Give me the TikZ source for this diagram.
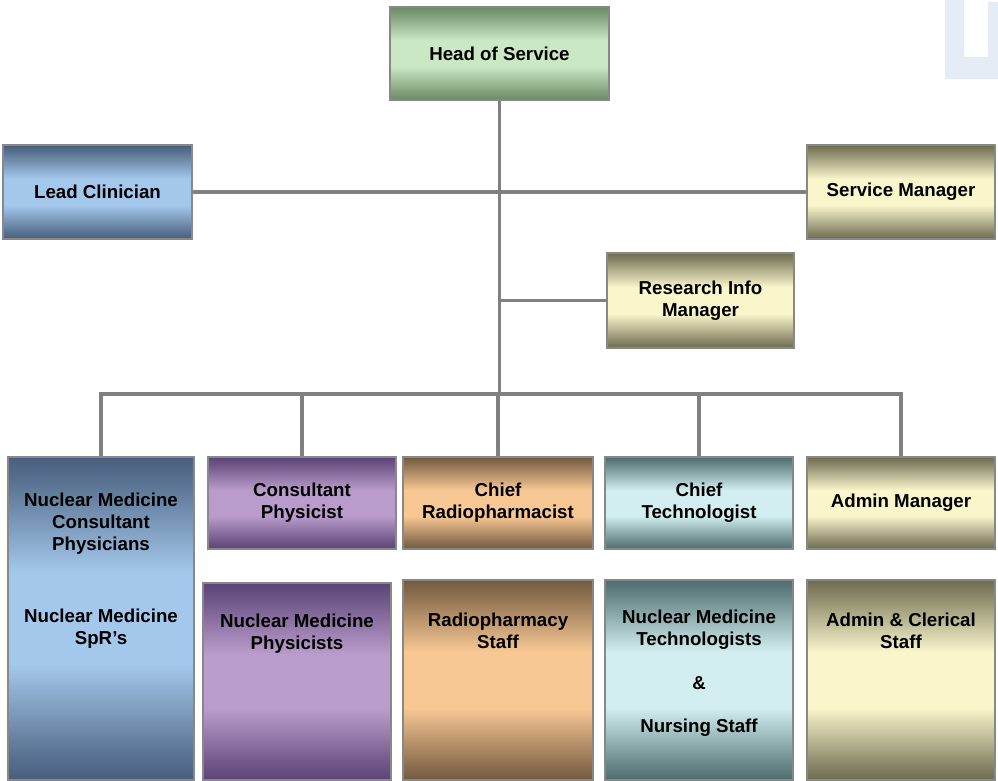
\documentclass[tikz,border=0pt]{standalone}
\usepackage{fontspec}
\setmainfont{Liberation Sans}
\usetikzlibrary{positioning,calc}
\definecolor{frame}{RGB}{136,136,136}
\definecolor{wire}{RGB}{128,128,128}
\definecolor{wmark}{RGB}{230,236,246}
\definecolor{grnD}{RGB}{107,138,102}
\definecolor{grnL}{RGB}{203,232,196}
\definecolor{bluD}{RGB}{72,94,124}
\definecolor{bluL}{RGB}{164,200,236}
\definecolor{khaD}{RGB}{110,108,80}
\definecolor{khaL}{RGB}{249,246,204}
\definecolor{purD}{RGB}{92,68,118}
\definecolor{purL}{RGB}{185,156,203}
\definecolor{tanD}{RGB}{115,90,64}
\definecolor{tanL}{RGB}{248,200,148}
\definecolor{tealD}{RGB}{79,109,110}
\definecolor{tealL}{RGB}{210,238,240}
\colorlet{bandedge}{gray}
\colorlet{bandmid}{white}
\pgfdeclareverticalshading[bandedge,bandmid]{band}{100bp}{color(0bp)=(bandedge); color(25bp)=(bandedge); color(29bp)=(bandedge!80!bandmid); color(43bp)=(bandmid); color(57bp)=(bandmid); color(71bp)=(bandedge!80!bandmid); color(75bp)=(bandedge); color(100bp)=(bandedge)}

\begin{document}
\begin{tikzpicture}[x=0.025cm, y=-0.025cm,
    unit/.style={draw=frame, line width=1.4pt, minimum width=4.7cm,
                 minimum height=2.35cm, inner sep=0pt, align=center,
                 font=\bfseries\fontsize{13.3}{15.5}\selectfont},
    tone/.style 2 args={/utils/exec={\colorlet{bandedge}{#1}\colorlet{bandmid}{#2}},
                 shade, shading=band},
    caption/.style={inner sep=0pt, align=center,
                 font=\bfseries\fontsize{13.3}{15.5}\selectfont},
    link/.style={draw=wire, line width=2.8pt},
  ]
  \useasboundingbox (0,0) rectangle (998,781);
  % corner mark
  \fill[wmark] (945,0) -- (945,79) -- (998,79) -- (998,2) -- (988,2)
    -- (988,57) -- (964,57) -- (964,0) -- cycle;

  % Head
  \node[unit, tone={grnD}{grnL}, minimum width=5.475cm, minimum height=2.325cm]
    (head) at (499.5,53.5) {Head of Service};
  % Second tier
  \node[unit, tone={bluD}{bluL}, minimum width=4.725cm] (lead) at (97.5,192) {Lead Clinician};
  \node[unit, tone={khaD}{khaL}] (svc) at (901,192) {Service Manager};
  \node[unit, tone={khaD}{khaL}, minimum width=4.675cm, minimum height=2.375cm]
    (rim) at (700.5,300.5) {Research Info\\Manager};

  % Department heads
  \node[unit, tone={bluD}{bluL}, minimum width=4.65cm, minimum height=8.075cm]
    (nmc) at (101,618.5) {};
  \node[unit, tone={purD}{purL}, minimum height=2.3cm] (cphys) at (302,503) {Consultant\\Physicist};
  \node[unit, tone={tanD}{tanL}, minimum width=4.75cm, minimum height=2.3cm]
    (crad) at (498,503) {Chief\\Radiopharmacist};
  \node[unit, tone={tealD}{tealL}, minimum height=2.3cm] (ctech) at (699,503) {Chief\\Technologist};
  \node[unit, tone={khaD}{khaL}, minimum height=2.3cm] (adm) at (901,503) {Admin Manager};

  % Staff
  \node[unit, tone={purD}{purL}, minimum height=4.925cm] (nmp) at (297,681.5) {};
  \node[unit, tone={tanD}{tanL}, minimum width=4.75cm, minimum height=5cm] (rps) at (498,680) {};
  \node[unit, tone={tealD}{tealL}, minimum height=5cm] (nmt) at (699,680) {};
  \node[unit, tone={khaD}{khaL}, minimum height=5cm] (acs) at (901,680) {};

  % Texts of the tall boxes
  \node[caption, below=0.925cm of nmc.north] (nmc-t)
    {Nuclear Medicine\\Consultant\\Physicians\\[36pt]Nuclear Medicine\\SpR's};
  \node[caption, below=0.8cm of nmp.north] (nmp-t) {Nuclear Medicine\\Physicists};
  \node[caption, below=0.85cm of rps.north] (rps-t) {Radiopharmacy\\Staff};
  \node[caption, below=0.775cm of nmt.north] (nmt-t)
    {Nuclear Medicine\\Technologists\\[15.5pt]\&\\[15pt]Nursing Staff};
  \node[caption, below=0.85cm of acs.north] (acs-t) {Admin \& Clerical\\Staff};

  % Lines
  \coordinate (hub) at (499.5,394);
  \draw[link] (head) -- (hub);
  \draw[link] (lead) -- (svc);
  \draw[link] (rim) -- (rim -| hub);
  \draw[link, line cap=rect] (nmc.north |- hub) -- (adm.north |- hub);
  \foreach \b in {nmc,cphys,crad,ctech,adm}
    \draw[link] (\b) -- (\b.north |- hub);
\end{tikzpicture}
\end{document}
